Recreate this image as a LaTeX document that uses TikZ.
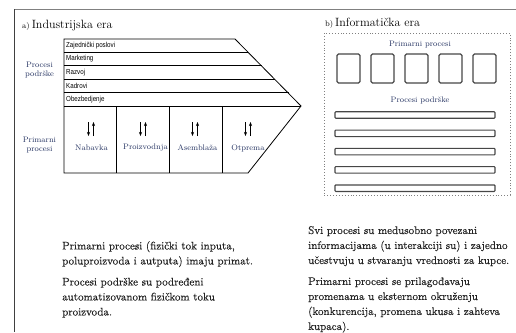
\documentclass[tikz,border=0pt]{standalone}
\usepackage{fontspec}
\newfontfamily\notefont{Latin Modern Roman}[FakeBold=0.4]
\newfontfamily\rowfont[FakeStretch=0.85]{Liberation Sans}
\usetikzlibrary{positioning,arrows.meta}
\definecolor{labelblue}{RGB}{38,52,98}
\definecolor{textgray}{RGB}{35,35,35}
\definecolor{boxgray}{RGB}{70,70,70}

\begin{document}
\begin{tikzpicture}[x=1pt,y=-1pt,>={Stealth[length=4pt,width=3pt]},
    rowlabel/.style={anchor=west,inner sep=0pt,font=\rowfont\fontsize{7.3}{8}\selectfont},
    side/.style={align=center,text=labelblue,font=\fontsize{8}{9.5}\selectfont},
    cell/.style={text=labelblue,inner sep=0pt,font=\fontsize{8}{9}\selectfont},
    primbox/.style={draw=boxgray,line width=1.1pt,rounded corners=1.5pt,inner sep=0pt,
      minimum width=23pt,minimum height=29pt},
    suppbar/.style={draw=boxgray,line width=1.1pt,rounded corners=0.8pt,inner sep=0pt,
      minimum width=160pt,minimum height=6.5pt},
    note/.style={anchor=north west,align=left,inner sep=0pt,text=textgray,
      font=\notefont\fontsize{11}{15}\selectfont}]
  \useasboundingbox (0,0) rectangle (516,332);
  % frame
  \draw[gray,line width=1.3pt] (14,9.5) -- (516,9.5);
  \draw[black!75,line width=1.2pt] (14.5,9) -- (14.5,332);

  % a) industrial era
  \node[anchor=base west,inner sep=0pt] (title_a) at (22,28)
    {{\fontsize{8}{9}\selectfont a)}\fontsize{12}{14}\selectfont\,Industrijska era};
  \draw[line width=0.8pt] (64,39) -- (235,39) -- (301,106) -- (248,173) -- (64,173) -- cycle;
  \draw[line width=0.8pt] (64,52.4) -- (248.4,52.4);
  \draw[line width=0.8pt] (64,65.8) -- (261.8,65.8);
  \draw[line width=0.8pt] (64,79.2) -- (275.2,79.2);
  \draw[line width=0.8pt] (64,92.6) -- (288.6,92.6);
  \draw[line width=0.8pt] (64,106) -- (301,106);
  \draw[line width=0.8pt] (116,106) -- (116,173);
  \draw[line width=0.8pt] (169,106) -- (169,173);
  \draw[line width=0.8pt] (222,106) -- (222,173);
  \node[rowlabel] (r_zaj) at (66,45.7) {Zajednički poslovi};
  \node[rowlabel] (r_mar) at (66,59.1) {Marketing};
  \node[rowlabel] (r_raz) at (66,72.5) {Razvoj};
  \node[rowlabel] (r_kad) at (66,85.9) {Kadrovi};
  \node[rowlabel] (r_obe) at (66,99.3) {Obezbedjenje};
  \node[side] (s_pod) at (39.5,70) {Procesi\\podrške};
  \node[side] (s_prim) at (39.5,145) {Primarni\\procesi};
  \node[cell] (c_nab) at (91.5,148) {Nabavka};
  \node[cell] (c_pro) at (145.5,148) {Proizvodnja};
  \node[cell] (c_ase) at (197.5,148) {Asemblaža};
  \node[cell] (c_otp) at (248,148) {Otprema};
  \draw[->] (88.5,122) -- (88.5,136);
  \draw[->] (93.5,136) -- (93.5,122);
  \draw[->] (140.5,122) -- (140.5,136);
  \draw[->] (145.5,136) -- (145.5,122);
  \draw[->] (192.5,122) -- (192.5,136);
  \draw[->] (197.5,136) -- (197.5,122);
  \draw[->] (245.5,122) -- (245.5,136);
  \draw[->] (250.5,136) -- (250.5,122);

  % b) information era
  \node[anchor=base west,inner sep=0pt] (title_b) at (325,27)
    {{\fontsize{8}{9}\selectfont b)}\fontsize{12}{14}\selectfont\,Informatička era};
  \draw[gray,dotted,line width=0.9pt] (324,33) rectangle (510,195);
  \node[cell] (h_prim) at (420,45) {Primarni procesi};
  \node[primbox] (p1) at (348.5,68.5) {};
  \node[primbox] (p2) [right=34pt of p1.center,anchor=center] {};
  \node[primbox] (p3) [right=34pt of p2.center,anchor=center] {};
  \node[primbox] (p4) [right=34pt of p3.center,anchor=center] {};
  \node[primbox] (p5) [right=34pt of p4.center,anchor=center] {};
  \node[cell] (h_pod) at (420,100) {Procesi podrške};
  \node[suppbar] (b1) at (415,115) {};
  \node[suppbar] (b2) [below=18.3pt of b1.center,anchor=center] {};
  \node[suppbar] (b3) [below=18.3pt of b2.center,anchor=center] {};
  \node[suppbar] (b4) [below=18.3pt of b3.center,anchor=center] {};
  \node[suppbar] (b5) [below=18.3pt of b4.center,anchor=center] {};

  % notes
  \node[note] (n_left) at (62,241) {Primarni procesi (fizički tok inputa,\\
    poluproizvoda i autputa) imaju primat.\\[6pt]
    Procesi podrške su podređeni\\automatizovanom fizičkom toku\\proizvoda.};
  \node[note] (n_right) at (308,226) {Svi procesi su medusobno povezani\\
    informacijama (u interakciji su) i zajedno\\
    učestvuju u stvaranju vrednosti za kupce.\\[6pt]
    Primarni procesi se prilagođavaju\\promenama u eksternom okruženju\\
    (konkurencija, promena ukusa i zahteva\\kupaca).};
\end{tikzpicture}
\end{document}
